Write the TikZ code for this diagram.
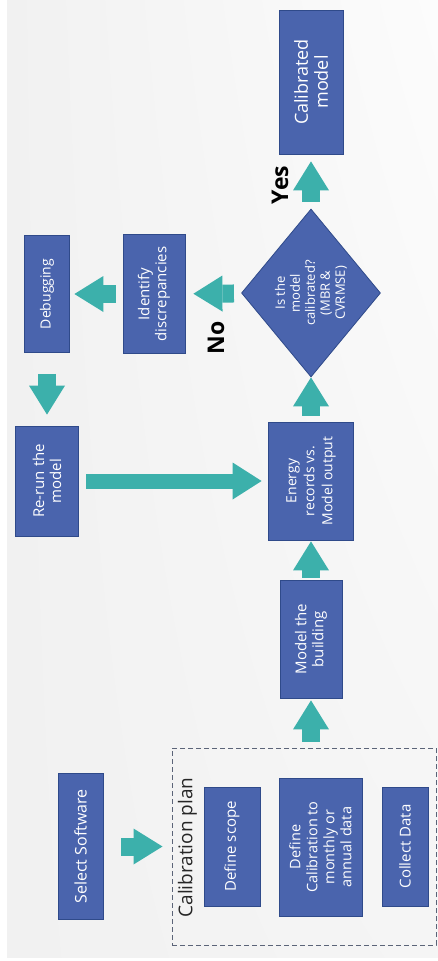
\documentclass[tikz,border=0pt]{standalone}
\usepackage{fontspec}
\setmainfont{Open Sans}
\usetikzlibrary{arrows.meta,shapes.geometric,shadings}
\definecolor{boxblue}{HTML}{4A64AD}
\definecolor{boxedge}{HTML}{2F4A8A}
\definecolor{arrowteal}{HTML}{3CB0AB}
\definecolor{planedge}{HTML}{5B6478}
\definecolor{bgdark}{HTML}{F1F1F1}
\definecolor{bgmid}{HTML}{F5F5F5}
\definecolor{bglight}{HTML}{FCFCFC}
\tikzset{
  box/.style  ={draw=boxedge, line width=0.8pt, fill=boxblue, text=white, rotate=90,
                align=center, inner sep=0pt, font=\fontsize{15}{17}\selectfont},
  dec/.style  ={box, diamond, aspect=1.2},
  blk/.style  ={draw=arrowteal, line width=18pt,
                -{Triangle[length=29pt,width=36pt,line width=0pt]}},
  lng/.style  ={draw=arrowteal, line width=15pt,
                -{Triangle[length=29pt,width=37pt,line width=0pt]}},
  grp/.style  ={draw=planedge, line width=1pt, dashed, dash pattern=on 5pt off 3pt},
  lbl/.style  ={font=\fontsize{23}{26}\selectfont\bfseries, rotate=90, inner sep=0pt},
}

\begin{document}
\begin{tikzpicture}[x=1pt,y=-1pt]
  \useasboundingbox (0,0) rectangle (438,961);
  \shade[upper left=bgdark, upper right=bglight, lower left=bgdark, lower right=bgmid]
        (7,0) rectangle (438,957);
  % main spine, read bottom to top
  \node[box, minimum width=144pt, minimum height=64pt, font=\fontsize{18}{20}\selectfont]
        (calib) at (311,82) {Calibrated\\model};
  \node[dec, minimum width=168pt, minimum height=139pt, font=\fontsize{13}{15}\selectfont]
        (chk) at (311,293) {Is the\\model\\calibrated?\\(MBR \&\\CVRMSE)};
  \node[box, minimum width=118pt, minimum height=85pt, font=\fontsize{14}{18}\selectfont]
        (energy) at (311,481) {Energy\\records vs.\\Model output};
  \node[box, minimum width=118pt, minimum height=62pt] (model) at (311,639) {Model the\\building};
  % calibration plan group
  \node[grp, minimum width=264pt, minimum height=197pt] (plan) at (304,846.5) {};
  \node[rotate=90, inner sep=0pt, font=\fontsize{19}{22}\selectfont, text=black!85]
        (plantitle) at (187.5,847.5) {Calibration plan};
  \node[box, minimum width=119pt, minimum height=56pt] (scope) at (232,846.5) {Define scope};
  \node[box, minimum width=138pt, minimum height=83pt, font=\fontsize{14.5}{17}\selectfont]
        (defcal) at (320.5,847) {Define\\Calibration to\\monthly or\\annual data};
  \node[box, minimum width=119pt, minimum height=46pt] (collect) at (405,846.5) {Collect Data};
  \node[box, minimum width=146pt, minimum height=45pt, font=\fontsize{16}{18}\selectfont]
        (soft) at (80.5,846.5) {Select Software};
  % loop back
  \node[box, minimum width=119pt, minimum height=62pt] (ident) at (154,294) {Identify\\discrepancies};
  \node[box, minimum width=117pt, minimum height=45pt, font=\fontsize{14}{17}\selectfont]
        (debug) at (47,294) {Debugging};
  \node[box, minimum width=110pt, minimum height=63pt] (rerun) at (47,481) {Re-run the\\model};
  \node[lbl] (yes) at (280,185) {Yes};
  \node[lbl] (no) at (216,338) {No};
  \draw[blk, shorten <=18pt, shorten >=9pt] (soft) -- (soft -| plan.west);
  \draw[blk, shorten <=6pt, shorten >=2pt] (model |- plan.north) -- (model);
  \draw[blk, shorten <=2pt, shorten >=1pt] (model) -- (energy);
  \draw[blk, shorten <=6pt] (energy) -- (chk);
  \draw[blk, shorten <=7pt, shorten >=7pt] (chk) -- (calib);
  \draw[blk, shorten <=7.5pt, shorten >=8pt] (chk) -- (ident);
  \draw[blk, shorten <=7pt, shorten >=4.5pt] (ident) -- (debug);
  \draw[blk, shorten <=21pt, shorten >=11pt] (debug) -- (rerun);
  \draw[lng, shorten <=7.5pt, shorten >=6.5pt] (rerun) -- (energy);
\end{tikzpicture}
\end{document}
